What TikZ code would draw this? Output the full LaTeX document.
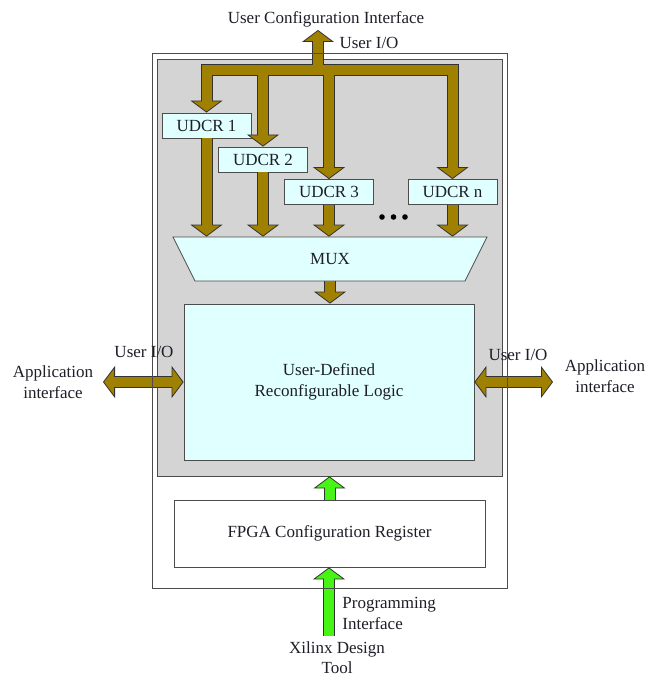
\documentclass[tikz,border=0pt]{standalone}
\usepackage{fontspec}
\setmainfont{Liberation Serif}
\usetikzlibrary{arrows.meta,positioning,shapes.geometric}
\definecolor{gold}{RGB}{160,128,0}
\definecolor{lightcyan}{RGB}{224,255,255}
\definecolor{chipgray}{RGB}{212,212,212}
\definecolor{progreen}{RGB}{70,245,20}
\definecolor{ink}{RGB}{30,30,40}

\tikzset{
  gtip/.tip={Triangle[width=32pt,length=12pt,line width=0.8pt,fill=gold]},
  ptip/.tip={Triangle[width=32pt,length=12pt,line width=0.8pt,fill=progreen]},
  busline/.style={line width=12pt,draw=black!80,line join=miter},
  busfill/.style={line width=10pt,draw=gold,line join=miter},
  progline/.style={line width=12pt,draw=black!80},
  progfill/.style={line width=10pt,draw=progreen,shorten >=10.5pt},
  reg/.style={draw=black!70,fill=lightcyan,minimum width=89pt,minimum height=25pt,inner sep=0pt},
  lbl/.style={inner sep=0pt,align=center},
}

\begin{document}
\begin{tikzpicture}[x=1pt,y=-1pt,font=\fontsize{17}{21.5}\selectfont,text=ink,line width=0.8pt]
  \useasboundingbox (0,0) rectangle (649,679);
  % reconfigurable area
  \node[fill=chipgray,draw=black!70,minimum width=345pt,minimum height=417pt,inner sep=0pt] (area) at (329.5,267.5) {};
  \node[draw=black!70,fill=lightcyan,minimum width=290pt,minimum height=156pt,inner sep=0pt,align=center] (logic) at (329,382) {User-Defined\\Reconfigurable Logic};
  \node[trapezium,shape border rotate=180,trapezium angle=63.4,trapezium stretches body,minimum width=314pt,inner xsep=0pt,inner ysep=16.3pt,draw=black!70,fill=lightcyan] (mux) at (330,259) {MUX};
  \node[reg] (u1) at (206.5,125.5) {UDCR 1};
  \node[reg] (u2) at (263,159.5) {UDCR 2};
  \node[reg] (u3) at (329,192) {UDCR 3};
  \node[reg] (un) at (452.5,192) {UDCR n};
  \foreach \x in {382,393.5,405}{\fill[black] (\x,217) circle (2.8);}
  \node[draw=black!70,fill=white,minimum width=311pt,minimum height=67pt] (fpga) at (329.5,533.5) {FPGA Configuration Register};

  % free ends
  \coordinate (bus) at (0,70.5);
  \coordinate (cfg) at (318,30);
  \coordinate (appL) at (103,382);
  \coordinate (appR) at (553,382);
  \coordinate (tool) at (329,636);

  % bus outlines
  \draw[busline,gtip-gtip] (u1.north) -- (u1.north |- bus) -- (un.north |- bus) -- (un.north);
  \foreach \u in {u2,u3}{\draw[busline,-gtip] (\u.north |- bus) -- (\u.north);}
  \draw[busline,-gtip] (cfg |- bus) -- (cfg);
  \foreach \u in {u1,u2,u3,un}{\draw[busline,-gtip] (\u.south) -- (\u.south |- mux.north);}
  \draw[busline,-gtip] (mux.south) -- (mux.south |- logic.north);
  \draw[busline,gtip-gtip] (appL) -- (logic.west);
  \draw[busline,gtip-gtip] (logic.east) -- (appR);
  % bus fill
  \draw[busfill,shorten <=10.5pt,shorten >=10.5pt] (u1.north) -- (u1.north |- bus) -- (un.north |- bus) -- (un.north);
  \foreach \u in {u2,u3}{\draw[busfill,shorten >=10.5pt] (\u.north |- bus) -- (\u.north);}
  \draw[busfill,shorten >=10.5pt] (cfg |- bus) -- (cfg);
  \foreach \u in {u1,u2,u3,un}{\draw[busfill,shorten >=10.5pt] (\u.south) -- (\u.south |- mux.north);}
  \draw[busfill,shorten >=10.5pt] (mux.south) -- (mux.south |- logic.north);
  \draw[busfill,shorten <=10.5pt,shorten >=10.5pt] (appL) -- (logic.west);
  \draw[busfill,shorten <=10.5pt,shorten >=10.5pt] (logic.east) -- (appR);

  % programming path
  \draw[progline,-ptip] (fpga.north) -- (fpga.north |- area.south);
  \draw[progline,-ptip] (tool) -- (tool |- fpga.south);
  \draw[progfill] (fpga.north) -- (fpga.north |- area.south);
  \draw[progfill] (tool) -- (tool |- fpga.south);

  % chip outline
  \node[draw=black!70,minimum width=355pt,minimum height=535pt,inner sep=0pt] (chip) at (329.5,320.5) {};

  % labels
  \node[lbl] (uci) at (326,19) {User Configuration Interface};
  \node[lbl] (uio) at (369,43) {User I/O};
  \node[lbl] (uioL) at (144,352) {User I/O};
  \node[lbl] (uioR) at (518,355) {User I/O};
  \node[lbl] (appLtxt) at (53,382) {Application\\interface};
  \node[lbl] (appRtxt) at (605,376) {Application\\interface};
  \node[lbl,align=left,anchor=west] (prog) at (342,613.5) {Programming\\Interface};
  \node[lbl] (xdt) at (337,658) {Xilinx Design\\[-1.5pt]Tool};
\end{tikzpicture}
\end{document}
